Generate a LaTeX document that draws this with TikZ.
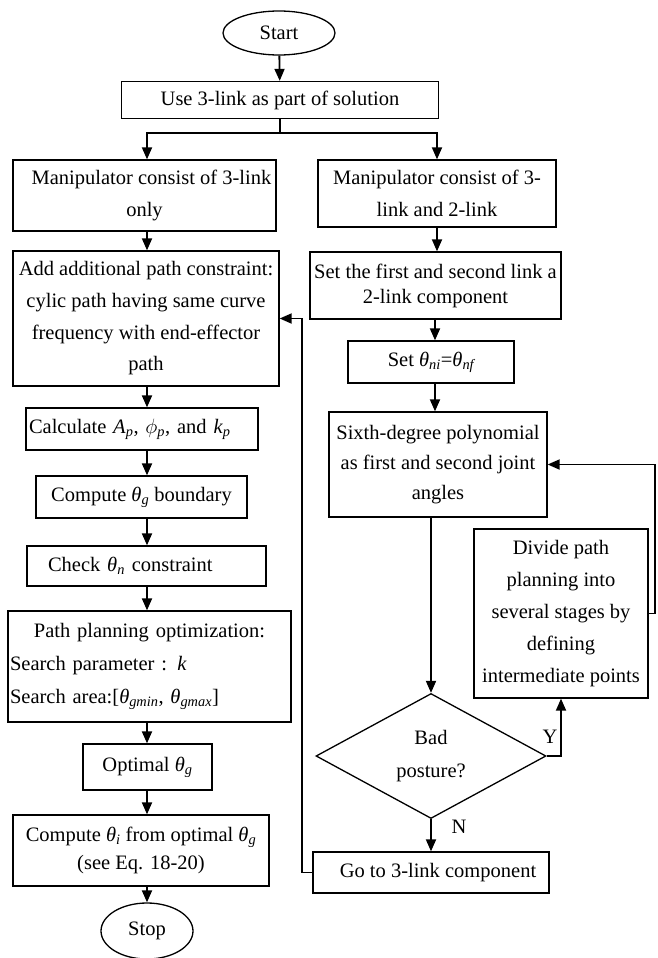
\documentclass[tikz,border=0pt]{standalone}
\usepackage{fontspec}
\setmainfont{Liberation Serif}
\usetikzlibrary{shapes.geometric,arrows.meta,calc}
\newcommand{\ts}[1]{\textsubscript{\itshape #1}}
\newcommand{\tht}{\textit{θ}}
\newcommand{\fs}[1]{\fontsize{20.5}{#1}\selectfont}
\begin{document}
\begin{tikzpicture}[x=1pt,y=-1pt,
  box/.style={draw,line width=1.3pt,inner xsep=2pt,inner ysep=1pt,align=center,font=\fs{31}},
  oval/.style={ellipse,draw,line width=1.3pt,inner sep=0pt,font=\fs{31}},
  arr/.style={line width=1.8pt,-{Triangle[length=12pt,width=10pt]}},
  ln/.style={line width=1.8pt},
  lab/.style={font=\fs{24}}]
\useasboundingbox (0,0) rectangle (657,958);
\coordinate (cx) at (147,0);
\coordinate (lx) at (302,0);
\coordinate (rx) at (655,0);
% left column
\node[oval,minimum width=112,minimum height=44] (start) at (279,33) {Start};
\node[box,minimum width=317,minimum height=37] (use) at (280,100) {Use 3-link as part of solution};
\node[box,minimum width=263,minimum height=71,font=\fs{31.7}] (m1) at (144.5,195.5) {\hspace*{14pt}Manipulator consist of 3-link\\only};
\node[box,minimum width=238,minimum height=67,font=\fs{31.7}] (m2) at (437,193.5) {Manipulator consist of 3-\\link and 2-link};
\node[box,minimum width=266,minimum height=135,font=\fs{31.7}] (add) at (146,318.5) {Add additional path constraint:\\cylic path having same curve\\frequency with end-effector\\path};
\node[box,minimum width=232,minimum height=42,text width=226,align=left,inner xsep=3pt] (calc) at (142,429) {Calculate \textit{A}\ts{p}, $\phi$\ts{p}, and \textit{k}\ts{p}};
\node[box,minimum width=211,minimum height=42] (comp) at (141.5,497) {Compute \tht\ts{g} boundary};
\node[box,minimum width=239,minimum height=40,text width=197,align=left,inner xsep=21pt] (check) at (146.5,566) {Check \tht\ts{n} constraint};
\node[box,minimum width=283,minimum height=111,text width=279,align=left,inner xsep=2pt,font=\fs{33}] (path) at (149.5,666.5) {\makebox[\hsize]{Path planning optimization:}\\Search parameter : \textit{k}\\Search area:[\tht\ts{gmin}, \tht\ts{gmax}]};
\node[box,minimum width=129,minimum height=46] (opt) at (147.5,767) {Optimal \tht\ts{g}};
\node[box,minimum width=256,minimum height=71,font=\fs{28}] (ci) at (141,850.5) {Compute \tht\ts{i} from optimal \tht\ts{g}\\(see Eq. 18-20)};
\node[oval,minimum width=92,minimum height=56] (stop) at (147,931) {Stop};
% right column
\node[box,minimum width=251,minimum height=67,inner xsep=0pt,font=\fs{25}] (s2) at (435.5,285.5) {Set the first and second link a\\2-link component};
\node[box,minimum width=166,minimum height=42] (snf) at (431,362) {Set \tht\ts{ni}=\tht\ts{nf}};
\node[box,minimum width=218,minimum height=105,font=\fs{30}] (six) at (438,464.5) {Sixth-degree polynomial\\as first and second joint\\angles};
\node[box,minimum width=174,minimum height=169,font=\fs{32}] (div) at (561,613.5) {Divide path\\planning into\\several stages by\\defining\\intermediate points};
\node[diamond,draw,line width=1.3pt,inner sep=0pt,aspect=1.84,minimum width=230,minimum height=125,align=center,font=\fs{33}] (dia) at (431,756) {Bad\\posture?};
\node[box,minimum width=236,minimum height=41] (go) at (431,872.5) {\hspace*{14pt}Go to 3-link component};
% connectors
\draw[arr] (start) -- (use);
\draw[ln] (use.south) -- (use.south |- 0,133) coordinate (br);
\draw[arr] (br) -| (m1.north -| cx);
\draw[arr] (br) -| (m2.north);
\draw[arr] (cx |- m1.south) -- (cx |- add.north);
\draw[arr] (cx |- add.south) -- (cx |- calc.north);
\draw[arr] (cx |- calc.south) -- (cx |- comp.north);
\draw[arr] (cx |- comp.south) -- (cx |- check.north);
\draw[arr] (cx |- check.south) -- (cx |- path.north);
\draw[arr] (cx |- path.south) -- (cx |- opt.north);
\draw[arr] (cx |- opt.south) -- (cx |- ci.north);
\draw[arr] (cx |- ci.south) -- (stop.north -| cx);
\draw[arr] (m2.south) -- (m2.south |- s2.north);
\draw[arr] (s2.south -| 435,0) -- (snf.north -| 435,0);
\draw[arr] (snf.south -| 435,0) -- (six.north -| 435,0);
\draw[arr] (six.south -| dia.north) -- (dia.north);
\draw[arr] (dia.east) -| (div.south);
\draw[arr] (dia.south) -- (go.north);
\draw[arr] (div.east) -- (div.east -| rx) |- (six.east);
\draw[arr] (go.west) -- (go.west -| lx) |- (add.east);
\node[lab] (ylab) at (550,737) {Y};
\node[lab] (nlab) at (459,827) {N};
\end{tikzpicture}
\end{document}
